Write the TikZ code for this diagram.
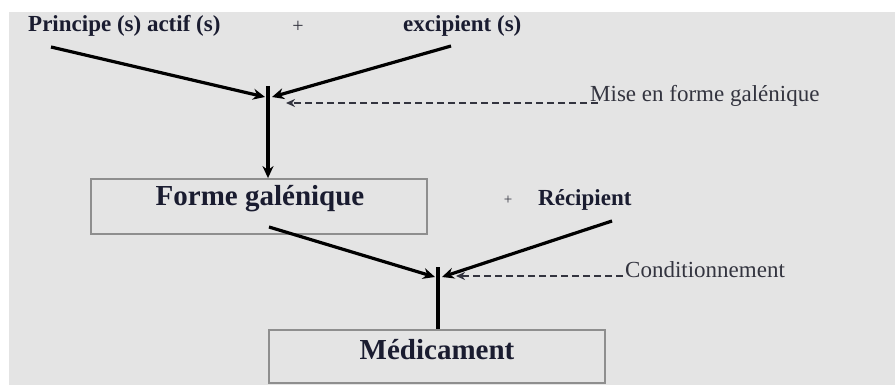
\documentclass[tikz,border=0pt]{standalone}
\usepackage{fontspec}
\setmainfont{Liberation Serif}
\usetikzlibrary{arrows.meta}
\definecolor{bgray}{HTML}{E4E4E4}
\definecolor{navy}{HTML}{1A1C30}
\definecolor{dgray}{HTML}{33343F}
\definecolor{boxline}{HTML}{8E8E8E}
\tikzset{
  lbl/.style={inner sep=0pt, text=navy, font=\fontsize{23}{26}\selectfont\bfseries},
  big/.style={inner sep=0pt, text=navy, font=\fontsize{29}{33}\selectfont\bfseries},
  note/.style={inner sep=0pt, text=dgray, font=\fontsize{23}{27}\selectfont},
  plus/.style={inner sep=0pt, text=dgray, font=\fontsize{20}{22}\selectfont},
  boxframe/.style={draw=boxline, line width=1.8pt, inner sep=0pt},
  flow/.style={draw=black, line width=3.2pt, -{Stealth[length=12pt,width=11pt]}},
  plain/.style={draw=black, line width=3.2pt},
  dashflow/.style={draw=dgray, line width=1.6pt, dash pattern=on 7pt off 4pt, -{Stealth[length=9pt,width=8pt]}}
}
\begin{document}
\begin{tikzpicture}[x=1pt, y=-1pt]
\useasboundingbox (0,0) rectangle (895,385);
\fill[white] (0,0) rectangle (895,385);
\fill[bgray] (9,12) rectangle (895,385);

% top labels
\node[lbl, anchor=base west] (pa) at (28,32) {Principe (s) actif (s)};
\node[plus] (plus1) at (298,27) {+};
\node[lbl, anchor=base west] (exc) at (403,32) {excipient (s)};
\node[note, anchor=base west] (mise) at (590,102) {Mise en forme galénique};

% boxes
\node[boxframe, minimum width=336pt, minimum height=55pt] (forme) at (259,206.5) {};
\node[big, anchor=base] (formet) at (260,206) {Forme galénique};
\node[plus, font=\fontsize{15}{16}\selectfont] (plus2) at (508,200) {+};
\node[lbl, anchor=base west] (recip) at (538,206) {Récipient};
\node[note, anchor=base west] (cond) at (625,277) {Conditionnement};
\node[boxframe, minimum width=336pt, minimum height=53pt] (medic) at (437,356.5) {};
\node[big, anchor=base] (medict) at (437,359) {Médicament};

% junction coordinates
\coordinate (a1) at (51,47);
\coordinate (a2) at (451,46);
\coordinate (j1l) at (265,97);
\coordinate (j1r) at (272,97);
\coordinate (j1top) at (268,86);
\coordinate (d1s) at (598,103);
\coordinate (d1e) at (286,103);
\coordinate (b1) at (269,227);
\coordinate (b2) at (612,221);
\coordinate (j2l) at (435,277);
\coordinate (j2r) at (442,277);
\coordinate (j2top) at (438,267);
\coordinate (d2s) at (623,276);
\coordinate (d2e) at (456,276);

% first stage
\draw[flow] (a1) -- (j1l);
\draw[flow] (a2) -- (j1r);
\draw[flow] (j1top) -- (forme.north -| j1top);
\draw[dashflow] (d1s) -- (d1e);

% second stage
\draw[flow] (b1) -- (j2l);
\draw[flow] (b2) -- (j2r);
\draw[plain] (j2top) -- (medic.north -| j2top);
\draw[dashflow] (d2s) -- (d2e);
\end{tikzpicture}
\end{document}
